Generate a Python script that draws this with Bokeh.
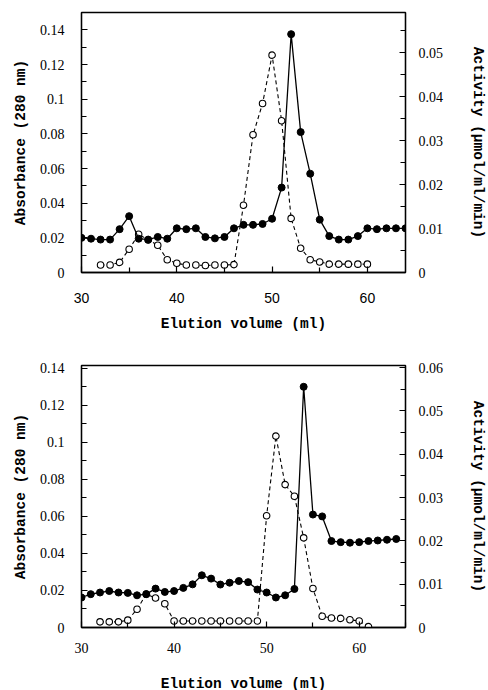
from bokeh.plotting import figure
from bokeh.models import Range1d, LinearAxis, FixedTicker, CustomJSTickFormatter
from bokeh.layouts import column
from bokeh.embed import file_html
from bokeh.resources import INLINE

# ---------------- data ----------------
# top panel
top_volume = list(range(30, 65))
top_absorbance = [0.020, 0.0195, 0.019, 0.019, 0.025, 0.0325, 0.0195, 0.019, 0.0205, 0.0195,
                  0.0255, 0.025, 0.0255, 0.0205, 0.0197, 0.0205, 0.0255, 0.0275, 0.0275, 0.028,
                  0.031, 0.049, 0.1375, 0.081, 0.057, 0.0305, 0.021, 0.019, 0.019, 0.021,
                  0.0255, 0.025, 0.0255, 0.0255, 0.0255]
top_act_volume = list(range(32, 61))
top_activity = [0.0017, 0.0017, 0.0023, 0.0053, 0.0087, 0.0074, 0.0062, 0.0029, 0.0021, 0.0017,
                0.0017, 0.0016, 0.0017, 0.0017, 0.0018, 0.0153, 0.0313, 0.0384, 0.0494, 0.0345,
                0.0123, 0.0055, 0.0029, 0.0024, 0.0019, 0.0019, 0.0019, 0.0019, 0.0019]

# bottom panel
bot_volume = list(range(30, 65))
bot_absorbance = [0.0162, 0.018, 0.0189, 0.0197, 0.0189, 0.0187, 0.0174, 0.018, 0.021, 0.0192,
                  0.0197, 0.0214, 0.0233, 0.0282, 0.0264, 0.0232, 0.0242, 0.0251, 0.0245, 0.0205,
                  0.0189, 0.0162, 0.0174, 0.0208, 0.130, 0.061, 0.060, 0.0467, 0.0461, 0.0458,
                  0.0461, 0.0467, 0.047, 0.0474, 0.0478]
bot_act_volume = list(range(32, 62))
bot_activity = [0.0013, 0.0013, 0.0013, 0.0017, 0.0042, 0.0077, 0.0068, 0.0055, 0.0015, 0.0015,
                0.0015, 0.0015, 0.0015, 0.0015, 0.0015, 0.0015, 0.0015, 0.0015, 0.0258, 0.0442,
                0.033, 0.0303, 0.0207, 0.009, 0.0026, 0.0022, 0.0021, 0.0018, 0.0015, 0.0002]

# ticks
x_major = [30, 40, 50, 60]
x_minor = [35, 45, 55, 65]
abs_major = [0, 0.02, 0.04, 0.06, 0.08, 0.1, 0.12, 0.14]
abs_minor = [0.01, 0.03, 0.05, 0.07, 0.09, 0.11, 0.13, 0.15]
top_act_major = [0, 0.01, 0.02, 0.03, 0.04, 0.05]
bot_act_major = [0, 0.01, 0.02, 0.03, 0.04, 0.05, 0.06]
act_minor = [0.005, 0.015, 0.025, 0.035, 0.045, 0.055]

x_title = "Elution volume (ml)"
y_title = "Absorbance (280 nm)"
y2_title = "Activity (\u00b5mol/ml/min)"

fmt = CustomJSTickFormatter(code="return tick.toFixed(2).replace(/\\.?0+$/, '');")


def style_axis(ax, tick_font, label_standoff):
    ax.axis_line_color = "black"
    ax.axis_line_width = 1.3
    ax.major_tick_in = 6
    ax.major_tick_out = 0
    ax.minor_tick_in = 5
    ax.minor_tick_out = 0
    ax.major_tick_line_color = "black"
    ax.minor_tick_line_color = "black"
    ax.major_tick_line_width = 1.2
    ax.minor_tick_line_width = 1.2
    ax.major_label_text_font = tick_font
    ax.major_label_text_font_size = "14px"
    ax.major_label_text_color = "black"
    ax.major_label_standoff = label_standoff
    ax.axis_label_text_font = "Liberation Mono"
    ax.axis_label_text_font_style = "bold"
    ax.axis_label_text_font_size = "14.5px"
    ax.axis_label_text_color = "black"


def panel(vol, absorb, act_vol, act, x_end, y_end, y2_end, act_major, xtick_font,
          frame_h, b_top, b_bottom, x_standoff, x_label_standoff):
    p = figure(width=488, frame_width=324, frame_height=frame_h,
               x_range=Range1d(30, x_end), y_range=Range1d(0, y_end),
               output_backend="svg", toolbar_location=None,
               min_border_left=81, min_border_right=83,
               min_border_top=b_top, min_border_bottom=b_bottom)
    p.background_fill_color = "white"
    p.border_fill_color = "white"
    p.outline_line_color = "black"
    p.outline_line_width = 1.3
    p.xgrid.visible = False
    p.ygrid.visible = False

    p.extra_y_ranges = {"act": Range1d(0, y2_end)}

    p.xaxis.ticker = FixedTicker(ticks=x_major, minor_ticks=x_minor)
    p.xaxis.axis_label = x_title
    style_axis(p.xaxis[0], xtick_font, x_standoff)
    p.xaxis.axis_label_standoff = x_label_standoff

    p.yaxis.ticker = FixedTicker(ticks=abs_major, minor_ticks=abs_minor)
    p.yaxis.formatter = fmt
    p.yaxis.axis_label = y_title
    style_axis(p.yaxis[0], "Liberation Serif", 17)
    p.yaxis.axis_label_standoff = 8

    ax2 = LinearAxis(y_range_name="act",
                     ticker=FixedTicker(ticks=act_major, minor_ticks=act_minor),
                     formatter=fmt, axis_label=y2_title)
    style_axis(ax2, "Liberation Serif", 13)
    ax2.axis_label_standoff = 24
    p.add_layout(ax2, "right")

    # activity (open circles, dashed)
    p.line(act_vol, act, y_range_name="act", line_color="black", line_width=1.1,
           line_dash="4 3")
    p.scatter(act_vol, act, y_range_name="act", marker="circle", size=6.5,
              fill_color="white", line_color="black", line_width=1.1)
    # absorbance (filled circles, solid)
    p.line(vol, absorb, line_color="black", line_width=1.3)
    p.scatter(vol, absorb, marker="circle", size=7, fill_color="black",
              line_color="black")
    return p


p1 = panel(top_volume, top_absorbance, top_act_volume, top_activity,
           64, 0.15, 0.0591, top_act_major, "Liberation Sans",
           260, 12, 76, 20, 10)
p2 = panel(bot_volume, bot_absorbance, bot_act_volume, bot_activity,
           65, 0.1415, 0.0605, bot_act_major, "Liberation Serif",
           262, 17, 62, 15, 20)

layout = column(p1, p2, spacing=0)
open("out.html", "w").write(file_html(layout, INLINE))
